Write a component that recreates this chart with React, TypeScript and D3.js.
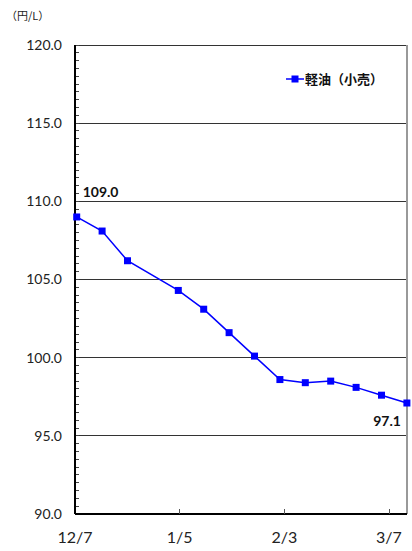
import React from "react";
import * as d3 from "d3";

// Weekly retail diesel price (円/L); week 3 (year-end) has no survey
const weekIndex = [0, 1, 2, 4, 5, 6, 7, 8, 9, 10, 11, 12, 13];
const prices = [109.0, 108.1, 106.2, 104.3, 103.1, 101.6, 100.1, 98.6, 98.4, 98.5, 98.1, 97.6, 97.1];
const dateLabels = ["12/7", "1/5", "2/3", "3/7"];
const yTicks = [90, 95, 100, 105, 110, 115, 120];
const seriesName = "軽油（小売）";
const unitLabel = "（円/L）";

const W = 412;
const H = 551;
const plot = { left: 75, right: 407, top: 45, bottom: 514 };
const numFont = "'Lato', 'DejaVu Sans', sans-serif";
const jpFont = "'Noto Sans CJK JP', sans-serif";

export default function App() {
  const x = d3.scaleLinear().domain([0, 13]).range([76.7, 406.9]);
  const xLab = d3.scalePoint<string>().domain(dateLabels).range([75, 389]);
  const y = d3.scaleLinear().domain([90, 120]).range([plot.bottom, plot.top]);

  const line = d3
    .line<number>()
    .x((_, i) => x(weekIndex[i]))
    .y((d) => y(d));

  const minor = d3.range(90, 120.01, 0.5);
  const first = prices[0];
  const last = prices[prices.length - 1];

  return (
    <svg
      width={W}
      height={H}
      style={{ position: "absolute", left: 0, top: 0, background: "#fff" }}
    >
      {/* unit */}
      <text x={6} y={20} fontFamily={jpFont} fontSize={11} fill="#222">
        {unitLabel}
      </text>

      {/* gridlines */}
      {yTicks.slice(1).map((t) => (
        <line
          key={"g" + t}
          x1={plot.left}
          x2={plot.right}
          y1={y(t)}
          y2={y(t)}
          stroke="#333"
          strokeWidth={1}
          shapeRendering="crispEdges"
        />
      ))}
      {/* right border */}
      <line
        x1={plot.right}
        x2={plot.right}
        y1={plot.top}
        y2={plot.bottom}
        stroke="#999"
        strokeWidth={1.5}
        shapeRendering="crispEdges"
      />

      {/* y minor ticks */}
      {minor.map((t) => (
        <line
          key={"m" + t}
          x1={plot.left}
          x2={plot.left + 4}
          y1={y(t)}
          y2={y(t)}
          stroke="#444"
          strokeWidth={1}
          shapeRendering="crispEdges"
        />
      ))}

      {/* y axis */}
      <line
        x1={plot.left}
        x2={plot.left}
        y1={plot.top}
        y2={plot.bottom}
        stroke="#000"
        strokeWidth={1.5}
        shapeRendering="crispEdges"
      />
      {yTicks.map((t) => (
        <text
          key={"yl" + t}
          x={62}
          y={y(t)}
          dy="0.35em"
          textAnchor="end"
          fontFamily={numFont}
          fontSize={14}
          fill="#222"
        >
          {t.toFixed(1)}
        </text>
      ))}

      {/* x axis */}
      <line
        x1={plot.left}
        x2={plot.right}
        y1={plot.bottom}
        y2={plot.bottom}
        stroke="#000"
        strokeWidth={1.5}
        shapeRendering="crispEdges"
      />
      {dateLabels.map((d, i) => (
        <g key={"xl" + d}>
          {i > 0 && (
            <line
              x1={xLab(d)}
              x2={xLab(d)}
              y1={plot.bottom}
              y2={plot.bottom - 5}
              stroke="#555"
              strokeWidth={1}
              shapeRendering="crispEdges"
            />
          )}
          <text
            x={xLab(d)}
            y={543}
            textAnchor="middle"
            fontFamily={numFont}
            fontSize={16}
            fill="#222"
          >
            {d}
          </text>
        </g>
      ))}

      {/* series */}
      <path d={line(prices) ?? ""} fill="none" stroke="#0000ff" strokeWidth={1.5} />
      {prices.map((p, i) => (
        <rect
          key={"pt" + i}
          x={x(weekIndex[i]) - 3.5}
          y={y(p) - 3.5}
          width={7}
          height={7}
          fill="#0000ff"
        />
      ))}

      {/* value labels */}
      <text
        x={x(weekIndex[0]) + 6}
        y={y(first) - 20}
        fontFamily={numFont}
        fontSize={14}
        fontWeight="bold"
        fill="#111"
      >
        {first.toFixed(1)}
      </text>
      <text
        x={x(weekIndex[weekIndex.length - 1]) - 6}
        y={y(last) + 23}
        textAnchor="end"
        fontFamily={numFont}
        fontSize={14}
        fontWeight="bold"
        fill="#111"
      >
        {last.toFixed(1)}
      </text>

      {/* legend */}
      <line x1={286} x2={304} y1={79} y2={79} stroke="#0000ff" strokeWidth={1.5} />
      <rect x={291.5} y={75.5} width={7} height={7} fill="#0000ff" />
      <text
        x={305}
        y={79}
        dy="0.35em"
        fontFamily={jpFont}
        fontSize={13}
        fontWeight="bold"
        fill="#111"
      >
        {seriesName}
      </text>
    </svg>
  );
}
